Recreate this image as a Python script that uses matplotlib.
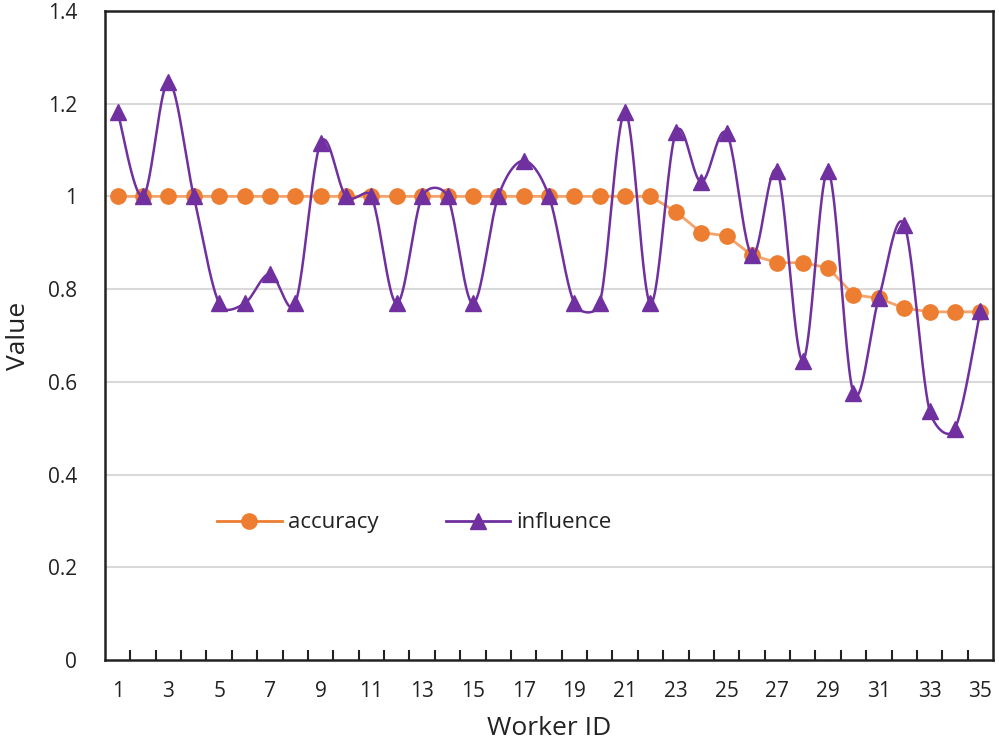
import numpy as np
import matplotlib
matplotlib.use("Agg")
import matplotlib.pyplot as plt

plt.rcParams['font.family'] = ['Open Sans', 'DejaVu Sans']

workers = list(range(1, 36))
accuracy = [1.0] * 22 + [0.967, 0.922, 0.915, 0.873, 0.857, 0.857, 0.846,
                         0.788, 0.780, 0.759, 0.751, 0.751, 0.751]
influence = [1.182, 1.0, 1.247, 1.0, 0.769, 0.769, 0.833, 0.769, 1.116, 1.0,
             1.0, 0.769, 1.0, 1.0, 0.769, 1.0, 1.077, 1.0, 0.769, 0.769,
             1.182, 0.769, 1.138, 1.031, 1.136, 0.873, 1.054, 0.646, 1.054,
             0.576, 0.781, 0.939, 0.538, 0.499, 0.753]
yticks = [0, 0.2, 0.4, 0.6, 0.8, 1.0, 1.2, 1.4]
yticklabels = ['0', '0.2', '0.4', '0.6', '0.8', '1', '1.2', '1.4']
xticklabels = [str(w) for w in workers if w % 2 == 1]

ORANGE = '#ED7D31'
PURPLE = '#7030A0'
TEXT = '#222222'


def excel_smooth(ax, xs, ys, n=40):
    """Excel-like smoothed line: Bezier segments, control arm capped at
    half the segment length (computed in display space)."""
    pts = ax.transData.transform(np.column_stack([xs, ys]))
    m = len(pts)
    out = []
    t = np.linspace(0, 1, n, endpoint=False)[:, None]
    for i in range(m - 1):
        p1 = pts[i]
        p2 = pts[i + 1]
        p0 = pts[i - 1] if i > 0 else p1
        p3 = pts[i + 2] if i + 2 < m else p2
        d12 = np.linalg.norm(p2 - p1)
        d02 = np.linalg.norm(p2 - p0)
        d13 = np.linalg.norm(p3 - p1)
        f1 = 1 / 6
        if d02 * f1 > d12 / 2 and d02 > 0:
            f1 = d12 / (2 * d02)
        f2 = 1 / 6
        if d13 * f2 > d12 / 2 and d13 > 0:
            f2 = d12 / (2 * d13)
        c1 = p1 + f1 * (p2 - p0)
        c2 = p2 - f2 * (p3 - p1)
        seg = ((1 - t) ** 3 * p1 + 3 * (1 - t) ** 2 * t * c1
               + 3 * (1 - t) * t ** 2 * c2 + t ** 3 * p2)
        out.append(seg)
    out.append(pts[-1][None, :])
    out = np.vstack(out)
    data = ax.transData.inverted().transform(out)
    return data[:, 0], data[:, 1]


fig = plt.figure(figsize=(9.99, 7.47), dpi=100)
ax = fig.add_axes([0.1051, 0.1165, 0.8889, 0.8688])

ax.set_xlim(0.5, 35.5)
ax.set_ylim(0, 1.4)

for v in yticks[1:-1]:
    ax.axhline(v, color='#D9D9D9', lw=1.5, zorder=0)

ax.plot(workers, accuracy, color='#F4A36B', lw=2, zorder=2)
ax.plot(workers, accuracy, linestyle='none', marker='o', ms=11,
        color=ORANGE, zorder=3)

sx, sy = excel_smooth(ax, workers, influence)
ax.plot(sx, sy, color=PURPLE, lw=1.8, zorder=4)
ax.plot(workers, influence, linestyle='none', marker='^', ms=12,
        color=PURPLE, zorder=5)

# legend proxies
h1, = ax.plot([], [], color=ORANGE, lw=2, marker='o', ms=11)
h2, = ax.plot([], [], color=PURPLE, lw=2, marker='^', ms=12)
ax.legend([h1, h2], ['accuracy', 'influence'], ncol=2, frameon=False,
          loc='center', bbox_to_anchor=(0.415, 0.300),
          bbox_transform=fig.transFigure, fontsize=16,
          handlelength=2.9, columnspacing=3.0, handletextpad=0.3,
          labelcolor=TEXT)

ax.set_yticks(yticks)
ax.set_yticklabels(yticklabels, fontsize=15, color=TEXT)
ax.tick_params(axis='y', length=0, pad=20)

ax.set_xticks([w for w in workers if w % 2 == 1])
ax.set_xticklabels(xticklabels, fontsize=15, color=TEXT)
ax.set_xticks(np.arange(1.5, 35.5, 1.0), minor=True)
ax.tick_params(axis='x', which='major', length=0, pad=15)
ax.tick_params(axis='x', which='minor', direction='in', length=7,
               width=1.5, color=TEXT)

for s in ax.spines.values():
    s.set_color(TEXT)
    s.set_linewidth(1.8)

ax.set_xlabel('Worker ID', fontsize=19, color=TEXT, labelpad=10)
ax.set_ylabel('Value', fontsize=19, color=TEXT, labelpad=12)

fig.savefig('out.png', dpi=100)
